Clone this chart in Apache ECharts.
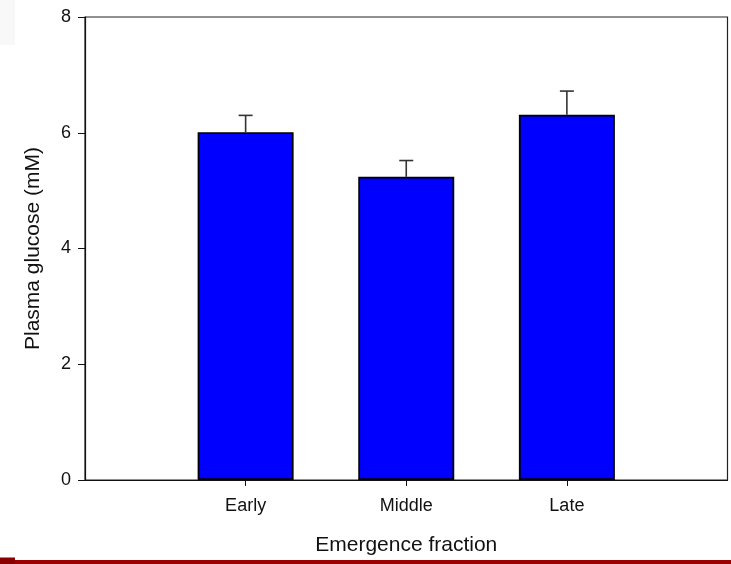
<!DOCTYPE html>
<html>
<head>
<meta charset="utf-8">
<script src="https://cdn.jsdelivr.net/npm/echarts@6/dist/echarts.min.js"></script>
<style>
  html, body { margin: 0; padding: 0; background: #fff; }
  #chart { width: 731px; height: 564px; }
</style>
</head>
<body>
<div id="chart"></div>
<script>
// Plasma glucose by emergence fraction (mean + upper SE whisker)
const categories = ['Early', 'Middle', 'Late'];
const glucoseMean = [6.01, 5.24, 6.31];
const glucoseSE = [0.29, 0.28, 0.41];
const yTicks = [0, 2, 4, 6, 8];

// Category axis is padded with an empty slot at each end so the bars sit at 1..3 of 0..4
const axisCats = [''].concat(categories, ['']);
const barData = ['-'].concat(glucoseMean, ['-']);
const errData = categories.map((c, i) => [i + 1, glucoseMean[i], glucoseMean[i] + glucoseSE[i]]);

const FONT = '"Liberation Sans", Arial, Helvetica, sans-serif';
const chart = echarts.init(document.getElementById('chart'), null, { renderer: 'canvas' });

chart.setOption({
  animation: false,
  backgroundColor: '#ffffff',
  textStyle: { fontFamily: FONT },
  grid: {
    left: 85, right: 3.5, top: 17, bottom: 84,
    show: true, borderColor: '#222', borderWidth: 1.2, backgroundColor: 'transparent'
  },
  xAxis: {
    type: 'category',
    data: axisCats,
    boundaryGap: false,
    name: 'Emergence fraction',
    nameLocation: 'middle',
    nameGap: 55,
    nameTextStyle: { fontSize: 21, color: '#111', fontFamily: FONT },
    axisLine: { show: true, lineStyle: { color: '#111', width: 1.2 } },
    axisTick: {
      show: true, inside: false, length: 6, alignWithLabel: true,
      interval: (idx) => idx > 0 && idx < axisCats.length - 1,
      lineStyle: { color: '#111', width: 1 }
    },
    axisLabel: {
      interval: (idx) => idx > 0 && idx < axisCats.length - 1,
      fontSize: 18, color: '#111', margin: 17, fontFamily: FONT
    },
    splitLine: { show: false }
  },
  yAxis: {
    type: 'value',
    min: yTicks[0],
    max: yTicks[yTicks.length - 1],
    interval: yTicks[1] - yTicks[0],
    name: 'Plasma glucose (mM)',
    nameLocation: 'middle',
    nameGap: 41,
    nameTextStyle: { fontSize: 21, color: '#111', fontFamily: FONT },
    axisLine: { show: true, lineStyle: { color: '#111', width: 1.2 } },
    axisTick: { show: true, inside: false, length: 7, lineStyle: { color: '#111', width: 1 } },
    axisLabel: { fontSize: 18, color: '#111', margin: 14, fontFamily: FONT },
    splitLine: { show: false }
  },
  series: [
    {
      type: 'bar',
      data: barData,
      barWidth: 96,
      itemStyle: { color: '#0000ff', borderColor: '#000', borderWidth: 1.8 },
      z: 2
    },
    {
      type: 'custom',
      data: errData,
      encode: { x: 0, y: [1, 2] },
      z: 1,
      renderItem: function (params, api) {
        const x = api.value(0);
        const top = api.coord([x, api.value(2)]);
        const base = api.coord([x, api.value(1)]);
        const half = 7;
        const style = { stroke: '#333', lineWidth: 1.6 };
        return {
          type: 'group',
          children: [
            { type: 'line', shape: { x1: top[0], y1: base[1], x2: top[0], y2: top[1] }, style: style },
            { type: 'line', shape: { x1: top[0] - half, y1: top[1], x2: top[0] + half, y2: top[1] }, style: style }
          ]
        };
      }
    }
  ],
  graphic: [
    { type: 'rect', left: 0, top: 0, shape: { width: 15, height: 45 }, style: { fill: '#f8f8f8' }, silent: true },
    { type: 'rect', left: 0, top: 560, shape: { width: 731, height: 4 }, style: { fill: '#9c0000' }, silent: true },
    { type: 'rect', left: 0, top: 557.5, shape: { width: 15, height: 6.5 }, style: { fill: '#8a0000' }, silent: true }
  ]
});
</script>
</body>
</html>
